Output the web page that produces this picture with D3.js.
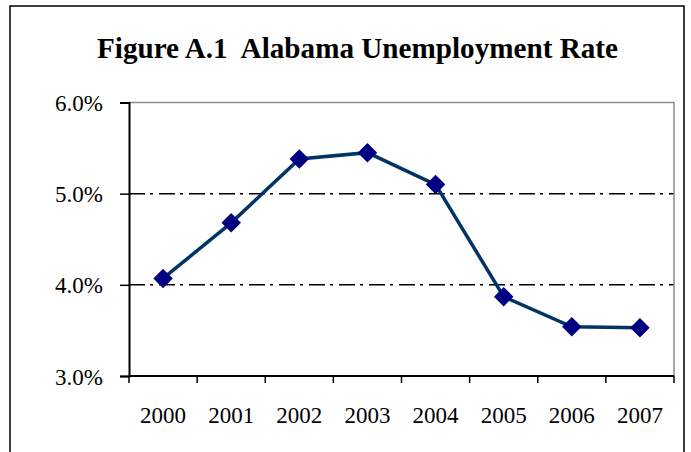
<!DOCTYPE html>
<html>
<head>
<meta charset="utf-8">
<script src="https://cdn.jsdelivr.net/npm/d3@7"></script>
<style>
  body { margin: 0; background: #fff; }
  text { font-family: "Liberation Serif", "DejaVu Serif", serif; }
</style>
</head>
<body>
<div id="chart"></div>
<script>
  // data
  const years = ["2000", "2001", "2002", "2003", "2004", "2005", "2006", "2007"];
  const rates = [4.07, 4.68, 5.38, 5.45, 5.10, 3.87, 3.54, 3.53];
  const yTicks = [3, 4, 5, 6];

  const W = 691, H = 452;
  const svg = d3.select("#chart")
    .append("svg")
    .attr("width", W)
    .attr("height", H)
    .attr("font-family", "Liberation Serif, serif");

  // outer frame (bottom runs off the page)
  svg.append("rect")
    .attr("x", 10).attr("y", 6)
    .attr("width", 674).attr("height", 470)
    .attr("fill", "none")
    .attr("stroke", "#000")
    .attr("stroke-width", 1.5);

  // title
  svg.append("text")
    .attr("x", 97).attr("y", 58)
    .attr("font-size", 29)
    .attr("font-weight", "bold")
    .attr("textLength", 521)
    .attr("lengthAdjust", "spacingAndGlyphs")
    .style("white-space", "pre")
    .text("Figure A.1  Alabama Unemployment Rate");

  const margin = { left: 129, right: 674, top: 102.5, bottom: 376 };

  const x = d3.scaleBand()
    .domain(years)
    .range([margin.left, margin.right]);

  const y = d3.scaleLinear()
    .domain([3, 6])
    .range([margin.bottom, margin.top]);

  // gridlines dash-dot
  svg.append("g")
    .selectAll("line")
    .data(yTicks.filter(d => d > 3 && d < 6))
    .enter()
    .append("line")
    .attr("x1", margin.left).attr("x2", margin.right)
    .attr("y1", d => y(d)).attr("y2", d => y(d))
    .attr("stroke", "#000")
    .attr("stroke-width", 1.5)
    .attr("stroke-dasharray", "16,5,3,6");

  // plot area border top/right (gray)
  svg.append("path")
    .attr("d", `M${margin.left},${y(6)}H${margin.right}V${margin.bottom}`)
    .attr("fill", "none")
    .attr("stroke", "#8c8c8c")
    .attr("stroke-width", 1.5);

  // y axis
  const yAxis = svg.append("g")
    .attr("transform", `translate(${margin.left},0)`)
    .call(d3.axisLeft(y).tickValues(yTicks).tickFormat(d => d.toFixed(1) + "%")
      .tickSize(9).tickPadding(17));
  yAxis.attr("font-family", null).attr("font-size", null);
  yAxis.select(".domain").attr("stroke-width", 2);
  yAxis.selectAll(".tick line").attr("stroke-width", 1.5);
  yAxis.selectAll("text")
    .attr("font-size", 23)
    .attr("fill", "#000")
    .attr("dy", "0.35em");

  // x axis: ticks at band edges, labels at band centers
  const xAxis = svg.append("g")
    .attr("transform", `translate(0,${margin.bottom})`);
  xAxis.append("line")
    .attr("x1", margin.left).attr("x2", margin.right)
    .attr("stroke", "#000")
    .attr("stroke-width", 2);
  xAxis.selectAll(".edge")
    .data(years.concat(["end"]))
    .enter()
    .append("line")
    .attr("x1", (d, i) => i < years.length ? x(d) : margin.right)
    .attr("x2", (d, i) => i < years.length ? x(d) : margin.right)
    .attr("y1", 0).attr("y2", 7)
    .attr("stroke", "#000")
    .attr("stroke-width", 1.5);
  xAxis.selectAll("text")
    .data(years)
    .enter()
    .append("text")
    .attr("x", d => x(d) + x.bandwidth() / 2)
    .attr("y", 47)
    .attr("text-anchor", "middle")
    .attr("font-size", 23)
    .text(d => d);

  // line
  const line = d3.line()
    .x((d, i) => x(years[i]) + x.bandwidth() / 2)
    .y(d => y(d));

  svg.append("path")
    .datum(rates)
    .attr("d", line)
    .attr("fill", "none")
    .attr("stroke", "#003366")
    .attr("stroke-width", 3.5);

  // diamond markers
  svg.append("g")
    .selectAll("path")
    .data(rates)
    .enter()
    .append("path")
    .attr("d", d3.symbol().type(d3.symbolSquare).size(190))
    .attr("transform", (d, i) => `translate(${x(years[i]) + x.bandwidth() / 2},${y(d)}) rotate(45)`)
    .attr("fill", "#000080");
</script>
</body>
</html>
